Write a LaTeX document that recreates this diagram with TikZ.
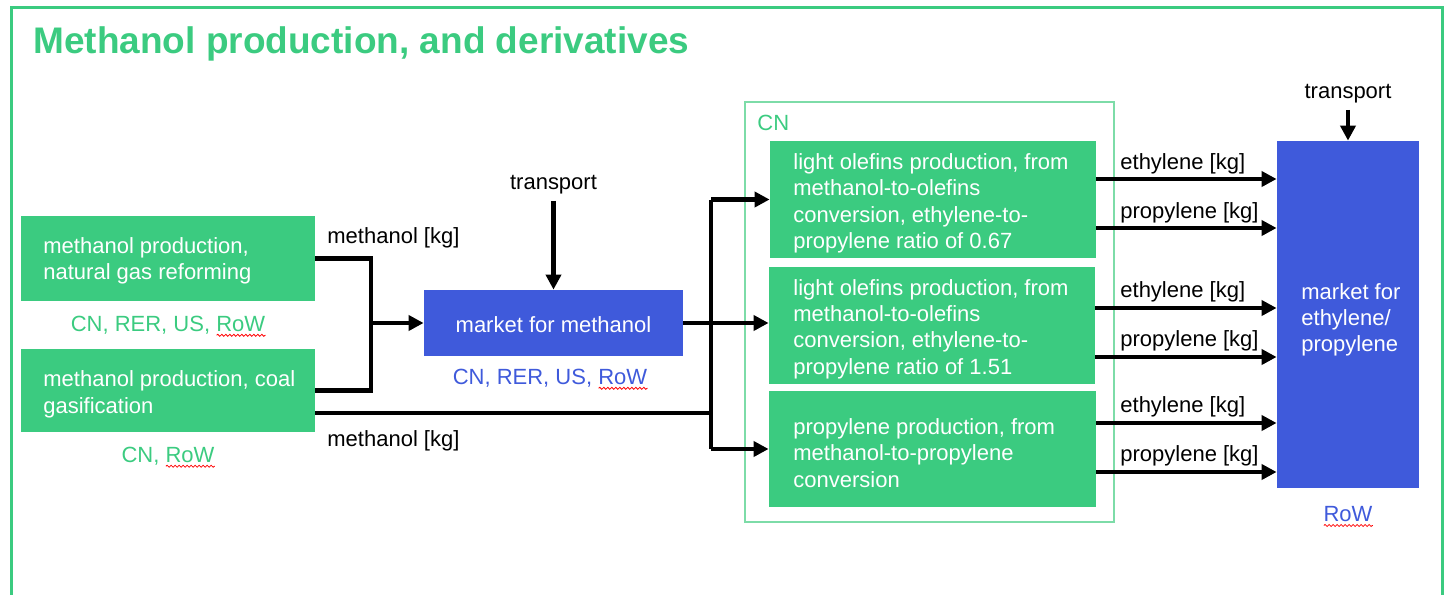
\documentclass[tikz,border=0pt]{standalone}
\usepackage{fontspec}
\setmainfont{Liberation Sans}
\usetikzlibrary{arrows.meta,calc,fit,decorations.pathmorphing}
\definecolor{gr}{RGB}{59,203,128}
\definecolor{grl}{RGB}{125,220,168}
\definecolor{bl}{RGB}{63,90,219}
\newcommand{\squig}[1]{\draw[red, line width=0.4pt, decorate, decoration={snake, amplitude=0.5pt, segment length=2pt}] ($(#1.base east)+(-49,4)$) -- ($(#1.base east)+(0,4)$);}
\begin{document}
\begin{tikzpicture}[x=0.5pt,y=-0.5pt,
  gbox/.style={fill=gr, inner sep=0},
  bbox/.style={fill=bl, inner sep=0},
  wtxt/.style={text=white, font=\fontsize{11}{13.2}\selectfont, align=left, inner sep=0, anchor=west},
  mtxt/.style={text=white, font=\fontsize{11}{13}\selectfont, align=left, inner sep=0},
  lbl/.style={font=\fontsize{11}{13}\selectfont, inner sep=0},
  conn/.style={line width=2.1pt, line join=miter},
  arr/.style={conn, -{Triangle[length=7.5pt,width=7.5pt]}}]
\useasboundingbox (0,0) rectangle (1448,595);
% frame and title
\draw[gr, line width=1.5pt] (11,600) -- (11,7) -- (1442,7) -- (1442,600);
\node[anchor=base west, inner sep=0, text=gr, font=\fontsize{18.5}{22}\selectfont\bfseries] (title) at (33,53) {Methanol production, and derivatives};

% left producers
\node[gbox, fit={(21,216)(315,301)}] (ng) {};
\node[wtxt] (ngt) at (43,261) {methanol production,\\natural gas reforming};
\node[lbl, text=gr] (ngl) at (168,325) {CN, RER, US, RoW};
\node[gbox, fit={(21,349)(315,432)}] (coal) {};
\node[wtxt] (coalt) at (43,394.5) {methanol production, coal\\gasification};
\node[lbl, text=gr] (coall) at (168,456) {CN, RoW};
\node[lbl, anchor=west] (mk1) at (327,238) {methanol [kg]};
\node[lbl, anchor=west] (mk2l) at (327,441) {methanol [kg]};

% market for methanol
\node[bbox, fit={(424,290)(683,356)}] (mkt) {};
\node[mtxt] (mktt) at (553.5,325) {market for methanol};
\node[lbl, text=bl] (mktl) at (550,378) {CN, RER, US, RoW};
\node[lbl, inner ysep=3pt] (tr1) at (553.5,185) {transport};

% CN container
\node[draw=grl, line width=1.1pt, inner sep=0, fit={(745,102)(1114,522)}] (cn) {};
\node[lbl, anchor=west, text=gr] (cnl) at (757,123) {CN};
\node[gbox, fit={(770,141)(1096,258)}] (b1) {};
\node[wtxt] (b1t) at (793,203.5) {light olefins production, from\\methanol-to-olefins\\conversion, ethylene-to-\\propylene ratio of 0.67};
\node[gbox, fit={(769,267)(1095,384)}] (b2) {};
\node[wtxt] (b2t) at (793,329) {light olefins production, from\\methanol-to-olefins\\conversion, ethylene-to-\\propylene ratio of 1.51};
\node[gbox, fit={(769,391)(1096,507)}] (b3) {};
\node[wtxt] (b3t) at (793,453) {propylene production, from\\methanol-to-propylene\\conversion};

% market for ethylene/propylene
\node[bbox, fit={(1277,141)(1419,488)}] (mke) {};
\node[mtxt, anchor=west] (mket) at (1301,319.5) {market for\\ethylene/\\propylene};
\node[lbl, text=bl] (mkel) at (1348,514) {RoW};
\node[lbl, inner ysep=3pt] (tr2) at (1348,94) {transport};

% output labels
\node[lbl, anchor=west] (e1) at (1120,164) {ethylene [kg]};
\node[lbl, anchor=west] (p1) at (1120,213) {propylene [kg]};
\node[lbl, anchor=west] (e2) at (1120,292) {ethylene [kg]};
\node[lbl, anchor=west] (p2) at (1120,341) {propylene [kg]};
\node[lbl, anchor=west] (e3) at (1120,407) {ethylene [kg]};
\node[lbl, anchor=west] (p3) at (1120,456) {propylene [kg]};

% spell-check squiggles
\squig{ngl}
\squig{coall}
\squig{mktl}
\squig{mkel}

% connectors
\coordinate (j1) at (371,323);
\draw[conn] (ng.east) -| (j1);
\draw[conn] (coal.east) -| (j1);
\draw[arr] (j1) -- (mkt.west);
\draw[arr] (tr1.south) -- (mkt.north);

\coordinate (c2) at (315,413);
\coordinate (jt) at (711,199.5);
\coordinate (jb) at (711,449);
\draw[conn] (c2) -- (c2 -| jt);
\draw[conn] (jt) -- (jb);
\draw[arr] (jt) -- (b1.west);
\draw[arr] (mkt.east) -- (b2.west |- mkt.east);
\draw[arr] (jb) -- (b3.west);

\draw[arr] (tr2.south) -- (mke.north);
\draw[arr] ($(b1.east)+(0,-20.5)$) coordinate (o1) -- (mke.west |- o1);
\draw[arr] ($(b1.east)+(0,28.5)$) coordinate (o2) -- (mke.west |- o2);
\draw[arr] ($(b2.east)+(0,-17.5)$) coordinate (o3) -- (mke.west |- o3);
\draw[arr] ($(b2.east)+(0,31.5)$) coordinate (o4) -- (mke.west |- o4);
\draw[arr] ($(b3.east)+(0,-26)$) coordinate (o5) -- (mke.west |- o5);
\draw[arr] ($(b3.east)+(0,23)$) coordinate (o6) -- (mke.west |- o6);
\end{tikzpicture}
\end{document}
